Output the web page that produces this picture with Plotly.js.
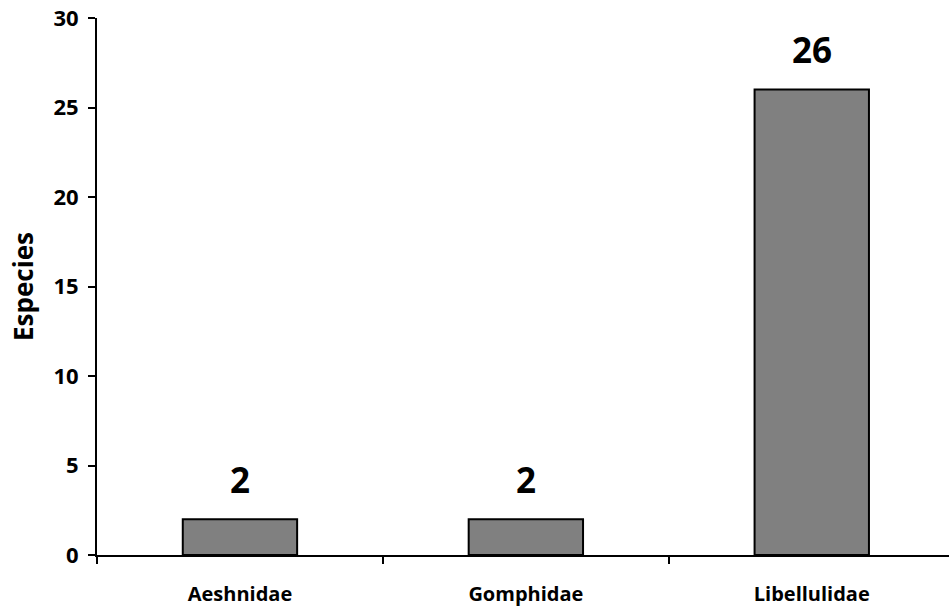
<!DOCTYPE html>
<html>
<head>
<meta charset="utf-8">
<script src="https://cdn.plot.ly/plotly-3.0.1.min.js"></script>
<style>html,body{margin:0;padding:0;background:#fff;}#chart{width:949px;height:609px;}</style>
</head>
<body>
<div id="chart"></div>
<script>
const families = ["Aeshnidae", "Gomphidae", "Libellulidae"];
const species = [2, 2, 26];
const yTicks = [0, 5, 10, 15, 20, 25, 30];

const font = "'Open Sans', Lato, 'DejaVu Sans', sans-serif";

const trace = {
  type: "bar",
  x: families,
  y: species,
  width: 0.4,
  marker: {color: "#808080", line: {color: "#000", width: 2}},
  hoverinfo: "skip"
};

const annotations = families.map((f, i) => ({
  x: f, y: species[i], xref: "x", yref: "y",
  text: String(species[i]), showarrow: false,
  yshift: 40, font: {family: font, size: 35, color: "#000", weight: 700}
}));

const layout = {
  width: 949, height: 609,
  margin: {l: 97, r: 0, t: 18, b: 54},
  paper_bgcolor: "#fff", plot_bgcolor: "#fff",
  showlegend: false,
  font: {family: font, color: "#000"},
  xaxis: {
    type: "category",
    range: [-0.5, 2.48],
    tickson: "boundaries",
    ticks: "outside", ticklen: 7, tickwidth: 2, tickcolor: "#000",
    showline: true, linecolor: "#000", linewidth: 2,
    showgrid: false, zeroline: false,
    tickfont: {family: font, size: 20, color: "#000", weight: 700},
    ticklabelstandoff: 20
  },
  yaxis: {
    range: [0, 30],
    tickvals: yTicks,
    ticks: "outside", ticklen: 7, tickwidth: 2, tickcolor: "#000",
    showline: true, linecolor: "#000", linewidth: 2,
    showgrid: false, zeroline: false,
    tickfont: {family: font, size: 22, color: "#000", weight: 700},
    ticklabelstandoff: 5,
    title: {text: "Especies", font: {family: font, size: 26, color: "#000", weight: 700}, standoff: 12}
  },
  annotations: annotations
};

Plotly.newPlot("chart", [trace], layout, {displayModeBar: false, staticPlot: true});
</script>
</body>
</html>
